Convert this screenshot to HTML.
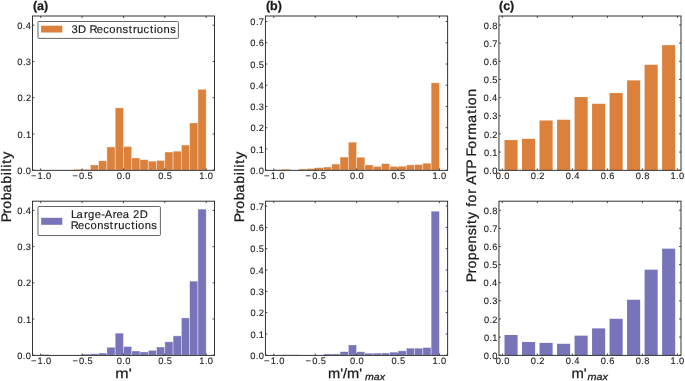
<!DOCTYPE html>
<html><head><meta charset="utf-8"><style>
html,body{margin:0;padding:0;background:#fff;width:685px;height:381px;overflow:hidden}
svg{display:block;will-change:transform}
text{font-family:"Liberation Sans",sans-serif;text-rendering:geometricPrecision;fill:#1a1a1a;stroke:#1a1a1a;stroke-width:0.25px}
.tl{font-size:9.3px;stroke-width:0.1px}
.pl{font-size:12.5px;font-weight:bold}
.lt{font-size:11.2px;stroke-width:0.15px}
.al{font-size:13.8px}
.sub{font-size:9.6px;font-style:italic}
.tk{stroke:#333333;stroke-width:0.9}
.sp{fill:none;stroke:#333333;stroke-width:1}
.lg{fill:#fff;stroke:#666;stroke-width:1}
.hb{stroke:#fff;stroke-opacity:0.55;stroke-width:0.7}
</style></head><body>
<svg width="685" height="381" viewBox="0 0 685 381">
<rect width="685" height="381" fill="#fff"/>
<rect x="73.8" y="169.29" width="8.27" height="0.91" fill="#dc813b" class="hb"/>
<rect x="82.08" y="169.29" width="8.28" height="0.91" fill="#dc813b" class="hb"/>
<rect x="90.35" y="164.91" width="8.27" height="5.29" fill="#dc813b" class="hb"/>
<rect x="98.62" y="160.7" width="8.28" height="9.5" fill="#dc813b" class="hb"/>
<rect x="106.9" y="146.93" width="8.28" height="23.27" fill="#dc813b" class="hb"/>
<rect x="115.18" y="107.85" width="8.27" height="62.35" fill="#dc813b" class="hb"/>
<rect x="123.45" y="146.56" width="8.28" height="23.63" fill="#dc813b" class="hb"/>
<rect x="131.73" y="157.95" width="8.28" height="12.25" fill="#dc813b" class="hb"/>
<rect x="140" y="159.69" width="8.27" height="10.51" fill="#dc813b" class="hb"/>
<rect x="148.28" y="161.14" width="8.28" height="9.06" fill="#dc813b" class="hb"/>
<rect x="156.55" y="160.48" width="8.27" height="9.71" fill="#dc813b" class="hb"/>
<rect x="164.82" y="152" width="8.28" height="18.2" fill="#dc813b" class="hb"/>
<rect x="173.1" y="151.17" width="8.27" height="19.03" fill="#dc813b" class="hb"/>
<rect x="181.38" y="145.04" width="8.28" height="25.16" fill="#dc813b" class="hb"/>
<rect x="189.65" y="122.89" width="8.28" height="47.31" fill="#dc813b" class="hb"/>
<rect x="197.93" y="89.29" width="8.27" height="80.91" fill="#dc813b" class="hb"/>
<rect x="40.7" y="354.4" width="8.27" height="0.8" fill="#7874b9" class="hb"/>
<rect x="82.08" y="354.11" width="8.28" height="1.09" fill="#7874b9" class="hb"/>
<rect x="90.35" y="353.75" width="8.27" height="1.45" fill="#7874b9" class="hb"/>
<rect x="98.62" y="353.03" width="8.28" height="2.17" fill="#7874b9" class="hb"/>
<rect x="106.9" y="347.24" width="8.28" height="7.96" fill="#7874b9" class="hb"/>
<rect x="115.18" y="333.12" width="8.27" height="22.08" fill="#7874b9" class="hb"/>
<rect x="123.45" y="346.51" width="8.28" height="8.69" fill="#7874b9" class="hb"/>
<rect x="131.73" y="351" width="8.28" height="4.2" fill="#7874b9" class="hb"/>
<rect x="140" y="351.94" width="8.27" height="3.26" fill="#7874b9" class="hb"/>
<rect x="148.28" y="350.31" width="8.28" height="4.89" fill="#7874b9" class="hb"/>
<rect x="156.55" y="347.02" width="8.27" height="8.18" fill="#7874b9" class="hb"/>
<rect x="164.82" y="341.81" width="8.28" height="13.39" fill="#7874b9" class="hb"/>
<rect x="173.1" y="335.83" width="8.27" height="19.37" fill="#7874b9" class="hb"/>
<rect x="181.38" y="317.91" width="8.28" height="37.29" fill="#7874b9" class="hb"/>
<rect x="189.65" y="281.1" width="8.28" height="74.1" fill="#7874b9" class="hb"/>
<rect x="197.93" y="209.1" width="8.27" height="146.1" fill="#7874b9" class="hb"/>
<rect x="273.8" y="169.56" width="8.28" height="0.64" fill="#dc813b" class="hb"/>
<rect x="282.08" y="169.14" width="8.28" height="1.06" fill="#dc813b" class="hb"/>
<rect x="298.64" y="168.93" width="8.28" height="1.27" fill="#dc813b" class="hb"/>
<rect x="306.92" y="168.5" width="8.28" height="1.7" fill="#dc813b" class="hb"/>
<rect x="315.2" y="167.65" width="8.28" height="2.55" fill="#dc813b" class="hb"/>
<rect x="323.48" y="167.01" width="8.28" height="3.19" fill="#dc813b" class="hb"/>
<rect x="331.76" y="164.04" width="8.28" height="6.16" fill="#dc813b" class="hb"/>
<rect x="340.04" y="157.03" width="8.28" height="13.17" fill="#dc813b" class="hb"/>
<rect x="348.32" y="142.16" width="8.28" height="28.04" fill="#dc813b" class="hb"/>
<rect x="356.6" y="157.24" width="8.28" height="12.96" fill="#dc813b" class="hb"/>
<rect x="364.88" y="164.89" width="8.28" height="5.31" fill="#dc813b" class="hb"/>
<rect x="373.16" y="166.38" width="8.28" height="3.82" fill="#dc813b" class="hb"/>
<rect x="381.44" y="163.62" width="8.28" height="6.58" fill="#dc813b" class="hb"/>
<rect x="389.72" y="166.38" width="8.28" height="3.82" fill="#dc813b" class="hb"/>
<rect x="398" y="166.16" width="8.28" height="4.04" fill="#dc813b" class="hb"/>
<rect x="406.28" y="164.89" width="8.28" height="5.31" fill="#dc813b" class="hb"/>
<rect x="414.56" y="164.47" width="8.28" height="5.73" fill="#dc813b" class="hb"/>
<rect x="422.84" y="163.19" width="8.28" height="7.01" fill="#dc813b" class="hb"/>
<rect x="431.12" y="82.8" width="8.28" height="87.4" fill="#dc813b" class="hb"/>
<rect x="282.08" y="354.77" width="8.28" height="0.43" fill="#7874b9" class="hb"/>
<rect x="290.36" y="354.77" width="8.28" height="0.43" fill="#7874b9" class="hb"/>
<rect x="323.48" y="353.92" width="8.28" height="1.28" fill="#7874b9" class="hb"/>
<rect x="331.76" y="353.92" width="8.28" height="1.28" fill="#7874b9" class="hb"/>
<rect x="340.04" y="351.64" width="8.28" height="3.56" fill="#7874b9" class="hb"/>
<rect x="348.32" y="344.98" width="8.28" height="10.22" fill="#7874b9" class="hb"/>
<rect x="356.6" y="351.79" width="8.28" height="3.41" fill="#7874b9" class="hb"/>
<rect x="364.88" y="353.13" width="8.28" height="2.07" fill="#7874b9" class="hb"/>
<rect x="373.16" y="353.09" width="8.28" height="2.11" fill="#7874b9" class="hb"/>
<rect x="381.44" y="352.94" width="8.28" height="2.26" fill="#7874b9" class="hb"/>
<rect x="389.72" y="352.11" width="8.28" height="3.09" fill="#7874b9" class="hb"/>
<rect x="398" y="350.83" width="8.28" height="4.37" fill="#7874b9" class="hb"/>
<rect x="406.28" y="348.17" width="8.28" height="7.03" fill="#7874b9" class="hb"/>
<rect x="414.56" y="348.17" width="8.28" height="7.03" fill="#7874b9" class="hb"/>
<rect x="422.84" y="347.53" width="8.28" height="7.67" fill="#7874b9" class="hb"/>
<rect x="431.12" y="211.21" width="8.28" height="143.99" fill="#7874b9" class="hb"/>
<rect x="504.5" y="140.07" width="13.1" height="30.13" fill="#dc813b"/>
<rect x="522.02" y="138.8" width="13.1" height="31.4" fill="#dc813b"/>
<rect x="539.53" y="120.47" width="13.1" height="49.73" fill="#dc813b"/>
<rect x="557.04" y="119.74" width="13.1" height="50.46" fill="#dc813b"/>
<rect x="574.55" y="97.06" width="13.1" height="73.14" fill="#dc813b"/>
<rect x="592.06" y="103.77" width="13.1" height="66.43" fill="#dc813b"/>
<rect x="609.57" y="93.06" width="13.1" height="77.14" fill="#dc813b"/>
<rect x="627.08" y="80.36" width="13.1" height="89.84" fill="#dc813b"/>
<rect x="644.59" y="64.75" width="13.1" height="105.45" fill="#dc813b"/>
<rect x="662.1" y="45.15" width="13.1" height="125.05" fill="#dc813b"/>
<rect x="504.5" y="335" width="13.1" height="20.2" fill="#7874b9"/>
<rect x="522.02" y="341.97" width="13.1" height="13.23" fill="#7874b9"/>
<rect x="539.53" y="342.88" width="13.1" height="12.32" fill="#7874b9"/>
<rect x="557.04" y="343.78" width="13.1" height="11.42" fill="#7874b9"/>
<rect x="574.55" y="335.63" width="13.1" height="19.57" fill="#7874b9"/>
<rect x="592.06" y="328.38" width="13.1" height="26.82" fill="#7874b9"/>
<rect x="609.57" y="318.78" width="13.1" height="36.42" fill="#7874b9"/>
<rect x="627.08" y="299.75" width="13.1" height="55.45" fill="#7874b9"/>
<rect x="644.59" y="269.67" width="13.1" height="85.53" fill="#7874b9"/>
<rect x="662.1" y="248.65" width="13.1" height="106.55" fill="#7874b9"/>
<line x1="40.7" y1="170.35" x2="40.7" y2="168.45" class="tk"/>
<line x1="40.7" y1="16" x2="40.7" y2="17.9" class="tk"/>
<text x="30.93 37.57 43.16 46.11" y="178.5" class="tl">−1.0</text>
<line x1="82.08" y1="170.35" x2="82.08" y2="168.45" class="tk"/>
<line x1="82.08" y1="16" x2="82.08" y2="17.9" class="tk"/>
<text x="72.4 79.09 84.62 87.54" y="178.5" class="tl">−0.5</text>
<line x1="123.45" y1="170.35" x2="123.45" y2="168.45" class="tk"/>
<line x1="123.45" y1="16" x2="123.45" y2="17.9" class="tk"/>
<text x="116.82 122.36 125.31" y="178.5" class="tl">0.0</text>
<line x1="164.82" y1="170.35" x2="164.82" y2="168.45" class="tk"/>
<line x1="164.82" y1="16" x2="164.82" y2="17.9" class="tk"/>
<text x="158.29 163.82 166.74" y="178.5" class="tl">0.5</text>
<line x1="206.2" y1="170.35" x2="206.2" y2="168.45" class="tk"/>
<line x1="206.2" y1="16" x2="206.2" y2="17.9" class="tk"/>
<text x="199.33 204.91 207.86" y="178.5" class="tl">1.0</text>
<line x1="32.5" y1="170.2" x2="34.4" y2="170.2" class="tk"/>
<line x1="214.5" y1="170.2" x2="212.6" y2="170.2" class="tk"/>
<text x="17.23 22.77 25.72" y="173.8" class="tl">0.0</text>
<line x1="32.5" y1="133.95" x2="34.4" y2="133.95" class="tk"/>
<line x1="214.5" y1="133.95" x2="212.6" y2="133.95" class="tk"/>
<text x="17.46 23 25.91" y="137.55" class="tl">0.1</text>
<line x1="32.5" y1="97.7" x2="34.4" y2="97.7" class="tk"/>
<line x1="214.5" y1="97.7" x2="212.6" y2="97.7" class="tk"/>
<text x="17.53 23.07 25.9" y="101.3" class="tl">0.2</text>
<line x1="32.5" y1="61.45" x2="34.4" y2="61.45" class="tk"/>
<line x1="214.5" y1="61.45" x2="212.6" y2="61.45" class="tk"/>
<text x="17.35 22.89 25.86" y="65.05" class="tl">0.3</text>
<line x1="32.5" y1="25.2" x2="34.4" y2="25.2" class="tk"/>
<line x1="214.5" y1="25.2" x2="212.6" y2="25.2" class="tk"/>
<text x="17.14 22.68 25.63" y="28.8" class="tl">0.4</text>
<rect x="32.5" y="16" width="182" height="154.35" class="sp"/>
<line x1="40.7" y1="355.4" x2="40.7" y2="353.5" class="tk"/>
<line x1="40.7" y1="201.2" x2="40.7" y2="203.1" class="tk"/>
<text x="30.93 37.57 43.16 46.11" y="363.55" class="tl">−1.0</text>
<line x1="82.08" y1="355.4" x2="82.08" y2="353.5" class="tk"/>
<line x1="82.08" y1="201.2" x2="82.08" y2="203.1" class="tk"/>
<text x="72.4 79.09 84.62 87.54" y="363.55" class="tl">−0.5</text>
<line x1="123.45" y1="355.4" x2="123.45" y2="353.5" class="tk"/>
<line x1="123.45" y1="201.2" x2="123.45" y2="203.1" class="tk"/>
<text x="116.82 122.36 125.31" y="363.55" class="tl">0.0</text>
<line x1="164.82" y1="355.4" x2="164.82" y2="353.5" class="tk"/>
<line x1="164.82" y1="201.2" x2="164.82" y2="203.1" class="tk"/>
<text x="158.29 163.82 166.74" y="363.55" class="tl">0.5</text>
<line x1="206.2" y1="355.4" x2="206.2" y2="353.5" class="tk"/>
<line x1="206.2" y1="201.2" x2="206.2" y2="203.1" class="tk"/>
<text x="199.33 204.91 207.86" y="363.55" class="tl">1.0</text>
<line x1="32.5" y1="355.2" x2="34.4" y2="355.2" class="tk"/>
<line x1="214.5" y1="355.2" x2="212.6" y2="355.2" class="tk"/>
<text x="17.23 22.77 25.72" y="358.8" class="tl">0.0</text>
<line x1="32.5" y1="319" x2="34.4" y2="319" class="tk"/>
<line x1="214.5" y1="319" x2="212.6" y2="319" class="tk"/>
<text x="17.46 23 25.91" y="322.6" class="tl">0.1</text>
<line x1="32.5" y1="282.8" x2="34.4" y2="282.8" class="tk"/>
<line x1="214.5" y1="282.8" x2="212.6" y2="282.8" class="tk"/>
<text x="17.53 23.07 25.9" y="286.4" class="tl">0.2</text>
<line x1="32.5" y1="246.6" x2="34.4" y2="246.6" class="tk"/>
<line x1="214.5" y1="246.6" x2="212.6" y2="246.6" class="tk"/>
<text x="17.35 22.89 25.86" y="250.2" class="tl">0.3</text>
<line x1="32.5" y1="210.4" x2="34.4" y2="210.4" class="tk"/>
<line x1="214.5" y1="210.4" x2="212.6" y2="210.4" class="tk"/>
<text x="17.14 22.68 25.63" y="214" class="tl">0.4</text>
<rect x="32.5" y="201.2" width="182" height="154.2" class="sp"/>
<line x1="273.8" y1="170.35" x2="273.8" y2="168.45" class="tk"/>
<line x1="273.8" y1="16" x2="273.8" y2="17.9" class="tk"/>
<text x="264.03 270.67 276.26 279.21" y="178.5" class="tl">−1.0</text>
<line x1="315.2" y1="170.35" x2="315.2" y2="168.45" class="tk"/>
<line x1="315.2" y1="16" x2="315.2" y2="17.9" class="tk"/>
<text x="305.52 312.21 317.75 320.67" y="178.5" class="tl">−0.5</text>
<line x1="356.6" y1="170.35" x2="356.6" y2="168.45" class="tk"/>
<line x1="356.6" y1="16" x2="356.6" y2="17.9" class="tk"/>
<text x="349.97 355.51 358.46" y="178.5" class="tl">0.0</text>
<line x1="398" y1="170.35" x2="398" y2="168.45" class="tk"/>
<line x1="398" y1="16" x2="398" y2="17.9" class="tk"/>
<text x="391.46 397 399.92" y="178.5" class="tl">0.5</text>
<line x1="439.4" y1="170.35" x2="439.4" y2="168.45" class="tk"/>
<line x1="439.4" y1="16" x2="439.4" y2="17.9" class="tk"/>
<text x="432.53 438.11 441.06" y="178.5" class="tl">1.0</text>
<line x1="265.45" y1="170.2" x2="267.35" y2="170.2" class="tk"/>
<line x1="447.6" y1="170.2" x2="445.7" y2="170.2" class="tk"/>
<text x="250.18 255.72 258.67" y="173.8" class="tl">0.0</text>
<line x1="265.45" y1="148.96" x2="267.35" y2="148.96" class="tk"/>
<line x1="447.6" y1="148.96" x2="445.7" y2="148.96" class="tk"/>
<text x="250.41 255.95 258.86" y="152.56" class="tl">0.1</text>
<line x1="265.45" y1="127.72" x2="267.35" y2="127.72" class="tk"/>
<line x1="447.6" y1="127.72" x2="445.7" y2="127.72" class="tk"/>
<text x="250.48 256.02 258.85" y="131.32" class="tl">0.2</text>
<line x1="265.45" y1="106.48" x2="267.35" y2="106.48" class="tk"/>
<line x1="447.6" y1="106.48" x2="445.7" y2="106.48" class="tk"/>
<text x="250.3 255.84 258.81" y="110.08" class="tl">0.3</text>
<line x1="265.45" y1="85.24" x2="267.35" y2="85.24" class="tk"/>
<line x1="447.6" y1="85.24" x2="445.7" y2="85.24" class="tk"/>
<text x="250.09 255.63 258.58" y="88.84" class="tl">0.4</text>
<line x1="265.45" y1="64" x2="267.35" y2="64" class="tk"/>
<line x1="447.6" y1="64" x2="445.7" y2="64" class="tk"/>
<text x="250.37 255.9 258.82" y="67.6" class="tl">0.5</text>
<line x1="265.45" y1="42.76" x2="267.35" y2="42.76" class="tk"/>
<line x1="447.6" y1="42.76" x2="445.7" y2="42.76" class="tk"/>
<text x="250.15 255.69 258.64" y="46.36" class="tl">0.6</text>
<line x1="265.45" y1="21.52" x2="267.35" y2="21.52" class="tk"/>
<line x1="447.6" y1="21.52" x2="445.7" y2="21.52" class="tk"/>
<text x="250.35 255.89 258.82" y="25.12" class="tl">0.7</text>
<rect x="265.45" y="16" width="182.15" height="154.35" class="sp"/>
<line x1="273.8" y1="355.4" x2="273.8" y2="353.5" class="tk"/>
<line x1="273.8" y1="201.2" x2="273.8" y2="203.1" class="tk"/>
<text x="264.03 270.67 276.26 279.21" y="363.55" class="tl">−1.0</text>
<line x1="315.2" y1="355.4" x2="315.2" y2="353.5" class="tk"/>
<line x1="315.2" y1="201.2" x2="315.2" y2="203.1" class="tk"/>
<text x="305.52 312.21 317.75 320.67" y="363.55" class="tl">−0.5</text>
<line x1="356.6" y1="355.4" x2="356.6" y2="353.5" class="tk"/>
<line x1="356.6" y1="201.2" x2="356.6" y2="203.1" class="tk"/>
<text x="349.97 355.51 358.46" y="363.55" class="tl">0.0</text>
<line x1="398" y1="355.4" x2="398" y2="353.5" class="tk"/>
<line x1="398" y1="201.2" x2="398" y2="203.1" class="tk"/>
<text x="391.46 397 399.92" y="363.55" class="tl">0.5</text>
<line x1="439.4" y1="355.4" x2="439.4" y2="353.5" class="tk"/>
<line x1="439.4" y1="201.2" x2="439.4" y2="203.1" class="tk"/>
<text x="432.53 438.11 441.06" y="363.55" class="tl">1.0</text>
<line x1="265.45" y1="355.2" x2="267.35" y2="355.2" class="tk"/>
<line x1="447.6" y1="355.2" x2="445.7" y2="355.2" class="tk"/>
<text x="250.18 255.72 258.67" y="358.8" class="tl">0.0</text>
<line x1="265.45" y1="333.9" x2="267.35" y2="333.9" class="tk"/>
<line x1="447.6" y1="333.9" x2="445.7" y2="333.9" class="tk"/>
<text x="250.41 255.95 258.86" y="337.5" class="tl">0.1</text>
<line x1="265.45" y1="312.6" x2="267.35" y2="312.6" class="tk"/>
<line x1="447.6" y1="312.6" x2="445.7" y2="312.6" class="tk"/>
<text x="250.48 256.02 258.85" y="316.2" class="tl">0.2</text>
<line x1="265.45" y1="291.3" x2="267.35" y2="291.3" class="tk"/>
<line x1="447.6" y1="291.3" x2="445.7" y2="291.3" class="tk"/>
<text x="250.3 255.84 258.81" y="294.9" class="tl">0.3</text>
<line x1="265.45" y1="270" x2="267.35" y2="270" class="tk"/>
<line x1="447.6" y1="270" x2="445.7" y2="270" class="tk"/>
<text x="250.09 255.63 258.58" y="273.6" class="tl">0.4</text>
<line x1="265.45" y1="248.7" x2="267.35" y2="248.7" class="tk"/>
<line x1="447.6" y1="248.7" x2="445.7" y2="248.7" class="tk"/>
<text x="250.37 255.9 258.82" y="252.3" class="tl">0.5</text>
<line x1="265.45" y1="227.4" x2="267.35" y2="227.4" class="tk"/>
<line x1="447.6" y1="227.4" x2="445.7" y2="227.4" class="tk"/>
<text x="250.15 255.69 258.64" y="231" class="tl">0.6</text>
<line x1="265.45" y1="206.1" x2="267.35" y2="206.1" class="tk"/>
<line x1="447.6" y1="206.1" x2="445.7" y2="206.1" class="tk"/>
<text x="250.35 255.89 258.82" y="209.7" class="tl">0.7</text>
<rect x="265.45" y="201.2" width="182.15" height="154.2" class="sp"/>
<line x1="502.3" y1="170.35" x2="502.3" y2="168.45" class="tk"/>
<line x1="502.3" y1="16" x2="502.3" y2="17.9" class="tk"/>
<text x="495.67 501.21 504.16" y="178.5" class="tl">0.0</text>
<line x1="537.32" y1="170.35" x2="537.32" y2="168.45" class="tk"/>
<line x1="537.32" y1="16" x2="537.32" y2="17.9" class="tk"/>
<text x="530.84 536.38 539.21" y="178.5" class="tl">0.2</text>
<line x1="572.34" y1="170.35" x2="572.34" y2="168.45" class="tk"/>
<line x1="572.34" y1="16" x2="572.34" y2="17.9" class="tk"/>
<text x="565.66 571.2 574.15" y="178.5" class="tl">0.4</text>
<line x1="607.36" y1="170.35" x2="607.36" y2="168.45" class="tk"/>
<line x1="607.36" y1="16" x2="607.36" y2="17.9" class="tk"/>
<text x="600.71 606.25 609.21" y="178.5" class="tl">0.6</text>
<line x1="642.38" y1="170.35" x2="642.38" y2="168.45" class="tk"/>
<line x1="642.38" y1="16" x2="642.38" y2="17.9" class="tk"/>
<text x="635.76 641.29 644.25" y="178.5" class="tl">0.8</text>
<line x1="677.4" y1="170.35" x2="677.4" y2="168.45" class="tk"/>
<line x1="677.4" y1="16" x2="677.4" y2="17.9" class="tk"/>
<text x="670.53 676.11 679.06" y="178.5" class="tl">1.0</text>
<line x1="498.95" y1="170.2" x2="500.85" y2="170.2" class="tk"/>
<line x1="681" y1="170.2" x2="679.1" y2="170.2" class="tk"/>
<text x="483.68 489.22 492.17" y="173.8" class="tl">0.0</text>
<line x1="498.95" y1="152.05" x2="500.85" y2="152.05" class="tk"/>
<line x1="681" y1="152.05" x2="679.1" y2="152.05" class="tk"/>
<text x="483.91 489.45 492.36" y="155.65" class="tl">0.1</text>
<line x1="498.95" y1="133.9" x2="500.85" y2="133.9" class="tk"/>
<line x1="681" y1="133.9" x2="679.1" y2="133.9" class="tk"/>
<text x="483.98 489.52 492.35" y="137.5" class="tl">0.2</text>
<line x1="498.95" y1="115.75" x2="500.85" y2="115.75" class="tk"/>
<line x1="681" y1="115.75" x2="679.1" y2="115.75" class="tk"/>
<text x="483.8 489.34 492.31" y="119.35" class="tl">0.3</text>
<line x1="498.95" y1="97.6" x2="500.85" y2="97.6" class="tk"/>
<line x1="681" y1="97.6" x2="679.1" y2="97.6" class="tk"/>
<text x="483.59 489.13 492.08" y="101.2" class="tl">0.4</text>
<line x1="498.95" y1="79.45" x2="500.85" y2="79.45" class="tk"/>
<line x1="681" y1="79.45" x2="679.1" y2="79.45" class="tk"/>
<text x="483.87 489.4 492.32" y="83.05" class="tl">0.5</text>
<line x1="498.95" y1="61.3" x2="500.85" y2="61.3" class="tk"/>
<line x1="681" y1="61.3" x2="679.1" y2="61.3" class="tk"/>
<text x="483.65 489.19 492.14" y="64.9" class="tl">0.6</text>
<line x1="498.95" y1="43.15" x2="500.85" y2="43.15" class="tk"/>
<line x1="681" y1="43.15" x2="679.1" y2="43.15" class="tk"/>
<text x="483.85 489.39 492.32" y="46.75" class="tl">0.7</text>
<line x1="498.95" y1="25" x2="500.85" y2="25" class="tk"/>
<line x1="681" y1="25" x2="679.1" y2="25" class="tk"/>
<text x="483.7 489.24 492.19" y="28.6" class="tl">0.8</text>
<rect x="498.95" y="16" width="182.05" height="154.35" class="sp"/>
<line x1="502.3" y1="355.4" x2="502.3" y2="353.5" class="tk"/>
<line x1="502.3" y1="201.2" x2="502.3" y2="203.1" class="tk"/>
<text x="495.67 501.21 504.16" y="363.55" class="tl">0.0</text>
<line x1="537.32" y1="355.4" x2="537.32" y2="353.5" class="tk"/>
<line x1="537.32" y1="201.2" x2="537.32" y2="203.1" class="tk"/>
<text x="530.84 536.38 539.21" y="363.55" class="tl">0.2</text>
<line x1="572.34" y1="355.4" x2="572.34" y2="353.5" class="tk"/>
<line x1="572.34" y1="201.2" x2="572.34" y2="203.1" class="tk"/>
<text x="565.66 571.2 574.15" y="363.55" class="tl">0.4</text>
<line x1="607.36" y1="355.4" x2="607.36" y2="353.5" class="tk"/>
<line x1="607.36" y1="201.2" x2="607.36" y2="203.1" class="tk"/>
<text x="600.71 606.25 609.21" y="363.55" class="tl">0.6</text>
<line x1="642.38" y1="355.4" x2="642.38" y2="353.5" class="tk"/>
<line x1="642.38" y1="201.2" x2="642.38" y2="203.1" class="tk"/>
<text x="635.76 641.29 644.25" y="363.55" class="tl">0.8</text>
<line x1="677.4" y1="355.4" x2="677.4" y2="353.5" class="tk"/>
<line x1="677.4" y1="201.2" x2="677.4" y2="203.1" class="tk"/>
<text x="670.53 676.11 679.06" y="363.55" class="tl">1.0</text>
<line x1="498.95" y1="355.2" x2="500.85" y2="355.2" class="tk"/>
<line x1="681" y1="355.2" x2="679.1" y2="355.2" class="tk"/>
<text x="483.68 489.22 492.17" y="358.8" class="tl">0.0</text>
<line x1="498.95" y1="337.08" x2="500.85" y2="337.08" class="tk"/>
<line x1="681" y1="337.08" x2="679.1" y2="337.08" class="tk"/>
<text x="483.91 489.45 492.36" y="340.68" class="tl">0.1</text>
<line x1="498.95" y1="318.96" x2="500.85" y2="318.96" class="tk"/>
<line x1="681" y1="318.96" x2="679.1" y2="318.96" class="tk"/>
<text x="483.98 489.52 492.35" y="322.56" class="tl">0.2</text>
<line x1="498.95" y1="300.84" x2="500.85" y2="300.84" class="tk"/>
<line x1="681" y1="300.84" x2="679.1" y2="300.84" class="tk"/>
<text x="483.8 489.34 492.31" y="304.44" class="tl">0.3</text>
<line x1="498.95" y1="282.72" x2="500.85" y2="282.72" class="tk"/>
<line x1="681" y1="282.72" x2="679.1" y2="282.72" class="tk"/>
<text x="483.59 489.13 492.08" y="286.32" class="tl">0.4</text>
<line x1="498.95" y1="264.6" x2="500.85" y2="264.6" class="tk"/>
<line x1="681" y1="264.6" x2="679.1" y2="264.6" class="tk"/>
<text x="483.87 489.4 492.32" y="268.2" class="tl">0.5</text>
<line x1="498.95" y1="246.48" x2="500.85" y2="246.48" class="tk"/>
<line x1="681" y1="246.48" x2="679.1" y2="246.48" class="tk"/>
<text x="483.65 489.19 492.14" y="250.08" class="tl">0.6</text>
<line x1="498.95" y1="228.36" x2="500.85" y2="228.36" class="tk"/>
<line x1="681" y1="228.36" x2="679.1" y2="228.36" class="tk"/>
<text x="483.85 489.39 492.32" y="231.96" class="tl">0.7</text>
<line x1="498.95" y1="210.24" x2="500.85" y2="210.24" class="tk"/>
<line x1="681" y1="210.24" x2="679.1" y2="210.24" class="tk"/>
<text x="483.7 489.24 492.19" y="213.84" class="tl">0.8</text>
<rect x="498.95" y="201.2" width="182.05" height="154.2" class="sp"/>
<text x="32.9" y="10.1" class="pl">(a)</text>
<text x="265.9" y="10.1" class="pl">(b)</text>
<text x="499" y="10.1" class="pl">(c)</text>
<rect x="38" y="21.5" width="140.4" height="16.9" rx="0.8" class="lg"/>
<rect x="41.1" y="25.7" width="21.2" height="6.8" fill="#dc813b"/>
<text x="71.4 78.03 86.35 89.48 96.82 103.24 109.3 116.02 122.59 128.64 132.89 137.02 143.59 150 153.94 156.85 163.57 170.14" y="32.5" class="lt">3D Reconstructions</text>
<rect x="38" y="206.5" width="122.4" height="29" rx="0.8" class="lg"/>
<rect x="41.2" y="217.8" width="21.1" height="7" fill="#7874b9"/>
<text x="70.95 76.61 83.98 87.88 94.69 101.16 104.67 112.64 116.48 122.66 129.62 133.05 139.84" y="217.8" class="lt">Large-Area 2D</text>
<text x="70.71 78.05 84.47 90.53 97.25 103.82 109.87 114.12 118.25 124.82 131.23 135.17 138.08 144.8 151.37" y="229.2" class="lt">Reconstructions</text>
<text x="-1.72 7.03 11.65 19.89 27.49 36.24 44.44 48.07 51.72 55.68 60.62" y="0" class="al" transform="translate(11,220.6) rotate(-90) scale(1.0200,1)">Probability</text>
<text x="-1.72 7.03 11.65 19.89 27.49 36.24 44.44 48.07 51.72 55.68 60.62" y="0" class="al" transform="translate(244,220.6) rotate(-90) scale(1.0200,1)">Probability</text>
<text x="-1.72 7.03 11.65 19.89 28.03 36.21 44.22 51.28 55.25 60.19 67.68 72.24 76.46 84.95 89.86 93.73 101.59 109.36 117.86 121.39 129.1 137.59 142.76 154.54 163.5 168.31 171.83 180.01" y="0" class="al" transform="translate(476,280.4) rotate(-90) scale(1.0200,1)">Propensity for ATP Formation</text>
<text x="115.3" y="377.6" class="al" textLength="16.4" lengthAdjust="spacingAndGlyphs">m'</text>
<text x="328.0" y="377.6" class="al" textLength="34.0" lengthAdjust="spacingAndGlyphs">m'/m'</text>
<text x="365.0" y="379.6" class="sub" textLength="20.0" lengthAdjust="spacingAndGlyphs">max</text>
<text x="571.4" y="377.6" class="al" textLength="15.2" lengthAdjust="spacingAndGlyphs">m'</text>
<text x="587.6" y="379.6" class="sub" textLength="20.4" lengthAdjust="spacingAndGlyphs">max</text>
</svg>
</body></html>
